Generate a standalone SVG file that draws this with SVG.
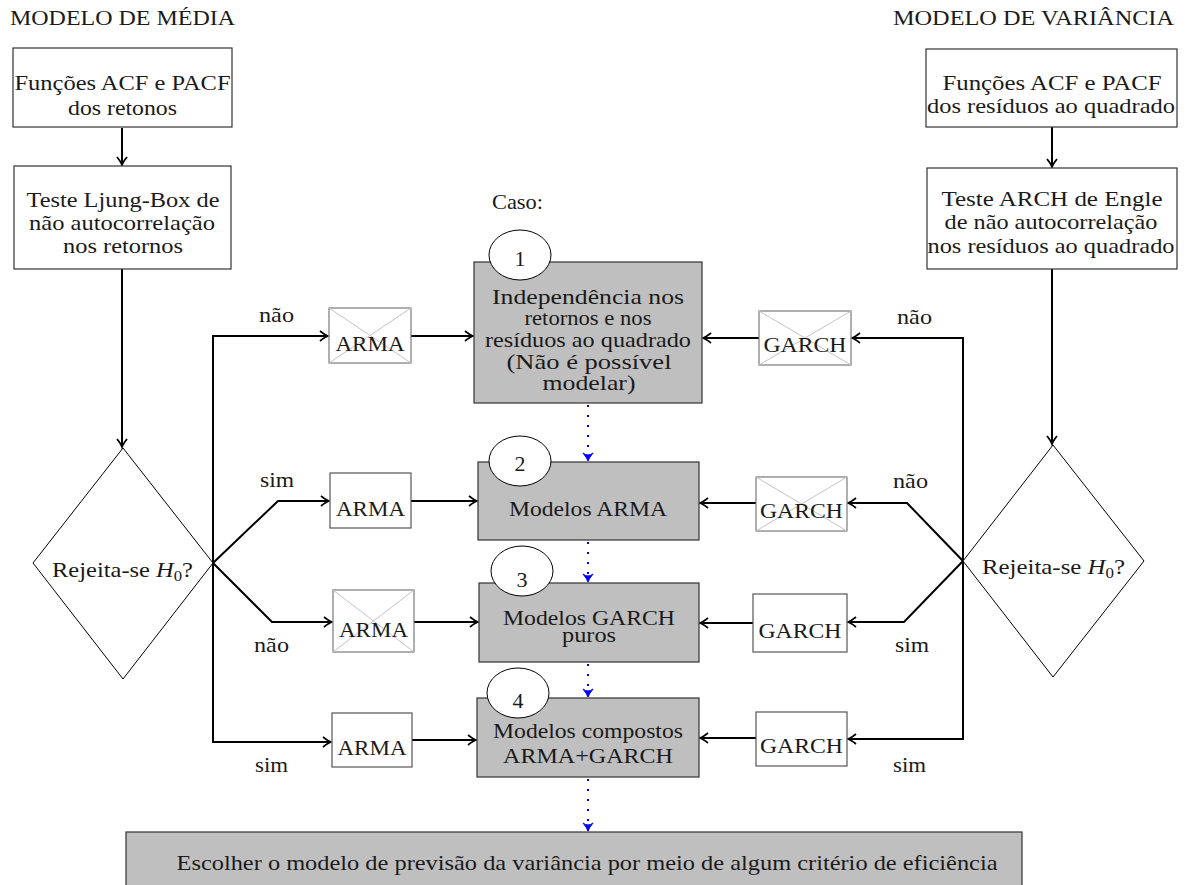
<svg xmlns="http://www.w3.org/2000/svg" width="1187" height="885" viewBox="0 0 1187 885">
<style>
text{font-family:"Liberation Serif","DejaVu Serif",serif;font-size:22px;fill:#1a1a1a}
.c{text-anchor:middle}
.box{fill:#fff;stroke:#333;stroke-width:1.2}
.sbox{fill:#fff;stroke:#555;stroke-width:1.2}
.xbox{fill:#fff;stroke:#7a7a7a;stroke-width:1.2}
.xl{stroke:#c4c4c4;stroke-width:1}
.gbox{fill:#bfbfbf;stroke:#333;stroke-width:1.2}
.dia{fill:#fff;stroke:#000;stroke-width:1}
.ell{fill:#fff;stroke:#000;stroke-width:1}
.cn{fill:none;stroke:#000;stroke-width:2;marker-end:url(#ah)}
.dot{fill:none;stroke:#00f;stroke-width:2;stroke-dasharray:2 8;marker-end:url(#bh)}
</style>
<defs>
<marker id="ah" markerUnits="userSpaceOnUse" markerWidth="14" markerHeight="14" viewBox="-10 -7 12 14" refX="0" refY="0" orient="auto">
<path d="M-8,-5 Q-3,-1 0,0 Q-3,1 -8,5" fill="none" stroke="#000" stroke-width="1.8"/>
</marker>
<marker id="bh" markerUnits="userSpaceOnUse" markerWidth="14" markerHeight="14" viewBox="-10 -7 12 14" refX="0" refY="0" orient="auto">
<path d="M-8,-5 Q-3,-1 0,0 Q-3,1 -8,5 Q-4,0 -8,-5 Z" fill="#00f" stroke="#00f" stroke-width="1"/>
</marker>
</defs>

<text x="10" y="25" textLength="225" lengthAdjust="spacingAndGlyphs">MODELO DE MÉDIA</text>
<text x="1174" y="25" style="text-anchor:end" textLength="281" lengthAdjust="spacingAndGlyphs">MODELO DE VARIÂNCIA</text>
<text x="492" y="209" textLength="51" lengthAdjust="spacingAndGlyphs">Caso:</text>

<g id="connectors">
<path class="cn" d="M122,128 L122,165"/>
<path class="cn" d="M122,269 L122,447"/>
<path class="cn" d="M213,563 L213,336 L328,336"/>
<path class="cn" d="M213,563 L213,742 L331,742"/>
<path class="cn" d="M213,563 L278,501 L329,501"/>
<path class="cn" d="M213,563 L272,622 L332,622"/>
<path class="cn" d="M411,336 L473,336"/>
<path class="cn" d="M411,501 L477,501"/>
<path class="cn" d="M414,622 L478,622"/>
<path class="cn" d="M412,740 L476,740"/>
<path class="cn" d="M1052,127 L1052,167"/>
<path class="cn" d="M1052,269 L1052,444"/>
<path class="cn" d="M963,561 L963,338 L852,338"/>
<path class="cn" d="M963,561 L963,739 L848,739"/>
<path class="cn" d="M963,561 L907,503 L848,503"/>
<path class="cn" d="M963,561 L904,622 L848,622"/>
<path class="cn" d="M759,338 L703,338"/>
<path class="cn" d="M756,503 L700,503"/>
<path class="cn" d="M753,623 L700,623"/>
<path class="cn" d="M756,738 L700,738"/>
<path class="dot" d="M588,405 L588,461"/>
<path class="dot" d="M588,542 L588,582"/>
<path class="dot" d="M588,664 L588,697"/>
<path class="dot" d="M588,779 L588,831"/>
</g>

<g id="labels">
<text x="259" y="322" textLength="35" lengthAdjust="spacingAndGlyphs">não</text>
<text x="260" y="487" textLength="34" lengthAdjust="spacingAndGlyphs">sim</text>
<text x="254" y="652" textLength="35" lengthAdjust="spacingAndGlyphs">não</text>
<text x="255" y="772" textLength="33" lengthAdjust="spacingAndGlyphs">sim</text>
<text x="897" y="324" textLength="35" lengthAdjust="spacingAndGlyphs">não</text>
<text x="893" y="488" textLength="35" lengthAdjust="spacingAndGlyphs">não</text>
<text x="895" y="652" textLength="34" lengthAdjust="spacingAndGlyphs">sim</text>
<text x="893" y="772" textLength="33" lengthAdjust="spacingAndGlyphs">sim</text>
</g>

<g id="l-acf">
<rect class="box" x="13" y="48" width="219" height="79"/>
<text class="c" x="122.5" y="90" textLength="216" lengthAdjust="spacingAndGlyphs">Funções ACF e PACF</text>
<text class="c" x="122.5" y="115" textLength="109" lengthAdjust="spacingAndGlyphs">dos retonos</text>
</g>
<g id="l-ljung">
<rect class="box" x="14" y="166" width="217" height="103"/>
<text class="c" x="123" y="207" textLength="193" lengthAdjust="spacingAndGlyphs">Teste Ljung-Box de</text>
<text class="c" x="122" y="230" textLength="186" lengthAdjust="spacingAndGlyphs">não autocorrelação</text>
<text class="c" x="123" y="253" textLength="120" lengthAdjust="spacingAndGlyphs">nos retornos</text>
</g>
<g id="l-dec">
<polygon class="dia" points="123,448 213,563 123,679 33,563"/>
<text x="52" y="577" textLength="141" lengthAdjust="spacingAndGlyphs">Rejeita-se <tspan font-style="italic">H</tspan><tspan font-size="15" dy="4">0</tspan><tspan dy="-4">?</tspan></text>
</g>

<g id="r-acf">
<rect class="box" x="926" y="49" width="251" height="78"/>
<text class="c" x="1052" y="90" textLength="219" lengthAdjust="spacingAndGlyphs">Funções ACF e PACF</text>
<text class="c" x="1051" y="113" textLength="248" lengthAdjust="spacingAndGlyphs">dos resíduos ao quadrado</text>
</g>
<g id="r-arch">
<rect class="box" x="927" y="168" width="250" height="101"/>
<text class="c" x="1052" y="206" textLength="221" lengthAdjust="spacingAndGlyphs">Teste ARCH de Engle</text>
<text class="c" x="1051" y="229" textLength="213" lengthAdjust="spacingAndGlyphs">de não autocorrelação</text>
<text class="c" x="1051" y="253" textLength="247" lengthAdjust="spacingAndGlyphs">nos resíduos ao quadrado</text>
</g>
<g id="r-dec">
<polygon class="dia" points="1053,445 1144,561 1053,677 963,561"/>
<text x="982" y="574" textLength="143" lengthAdjust="spacingAndGlyphs">Rejeita-se <tspan font-style="italic">H</tspan><tspan font-size="15" dy="4">0</tspan><tspan dy="-4">?</tspan></text>
</g>

<g id="arma1">
<rect class="xbox" x="329" y="308" width="82" height="55"/>
<path class="xl" d="M329,308 L411,363 M411,308 L329,363"/>
<text class="c" x="370" y="351" textLength="69" lengthAdjust="spacingAndGlyphs">ARMA</text>
</g>
<g id="arma2">
<rect class="sbox" x="330" y="473" width="81" height="55"/>
<text class="c" x="370.5" y="516" textLength="69" lengthAdjust="spacingAndGlyphs">ARMA</text>
</g>
<g id="arma3">
<rect class="xbox" x="333" y="590" width="81" height="62"/>
<path class="xl" d="M333,590 L414,652 M414,590 L333,652"/>
<text class="c" x="373.5" y="637" textLength="69" lengthAdjust="spacingAndGlyphs">ARMA</text>
</g>
<g id="arma4">
<rect class="sbox" x="332" y="713" width="80" height="54"/>
<text class="c" x="372" y="755" textLength="69" lengthAdjust="spacingAndGlyphs">ARMA</text>
</g>

<g id="garch1">
<rect class="xbox" x="759" y="311" width="92" height="54"/>
<path class="xl" d="M759,311 L851,365 M851,311 L759,365"/>
<text class="c" x="805" y="352" textLength="83" lengthAdjust="spacingAndGlyphs">GARCH</text>
</g>
<g id="garch2">
<rect class="xbox" x="756" y="477" width="91" height="54"/>
<path class="xl" d="M756,477 L847,531 M847,477 L756,531"/>
<text class="c" x="801.5" y="518" textLength="83" lengthAdjust="spacingAndGlyphs">GARCH</text>
</g>
<g id="garch3">
<rect class="sbox" x="753" y="594" width="94" height="58"/>
<text class="c" x="800" y="638" textLength="83" lengthAdjust="spacingAndGlyphs">GARCH</text>
</g>
<g id="garch4">
<rect class="sbox" x="756" y="712" width="91" height="54"/>
<text class="c" x="801.5" y="753" textLength="83" lengthAdjust="spacingAndGlyphs">GARCH</text>
</g>

<g id="caso1">
<rect class="gbox" x="474" y="262" width="228" height="141"/>
<ellipse class="ell" cx="520" cy="255" rx="31" ry="25"/>
<text class="c" x="520" y="266">1</text>
<text class="c" x="588" y="304" textLength="192" lengthAdjust="spacingAndGlyphs">Independência nos</text>
<text class="c" x="588" y="325" textLength="127" lengthAdjust="spacingAndGlyphs">retornos e nos</text>
<text class="c" x="588" y="347" textLength="206" lengthAdjust="spacingAndGlyphs">resíduos ao quadrado</text>
<text class="c" x="589" y="369" textLength="165" lengthAdjust="spacingAndGlyphs">(Não é possível</text>
<text class="c" x="589" y="390" textLength="93" lengthAdjust="spacingAndGlyphs">modelar)</text>
</g>
<g id="caso2">
<rect class="gbox" x="478" y="462" width="221" height="78"/>
<ellipse class="ell" cx="520" cy="461" rx="31" ry="25"/>
<text class="c" x="520" y="471">2</text>
<text class="c" x="588" y="516" textLength="158" lengthAdjust="spacingAndGlyphs">Modelos ARMA</text>
</g>
<g id="caso3">
<rect class="gbox" x="479" y="583" width="220" height="79"/>
<ellipse class="ell" cx="522" cy="571" rx="31" ry="25"/>
<text class="c" x="522" y="587">3</text>
<text class="c" x="589" y="625" textLength="172" lengthAdjust="spacingAndGlyphs">Modelos GARCH</text>
<text class="c" x="589" y="642" textLength="54" lengthAdjust="spacingAndGlyphs">puros</text>
</g>
<g id="caso4">
<rect class="gbox" x="477" y="698" width="222" height="79"/>
<ellipse class="ell" cx="518" cy="693" rx="31" ry="25"/>
<text class="c" x="518" y="708">4</text>
<text class="c" x="588" y="738" textLength="190" lengthAdjust="spacingAndGlyphs">Modelos compostos</text>
<text class="c" x="588" y="763" textLength="170" lengthAdjust="spacingAndGlyphs">ARMA+GARCH</text>
</g>

<g id="escolher">
<rect class="gbox" x="126" y="832" width="896" height="70"/>
<text class="c" x="587" y="870" textLength="821" lengthAdjust="spacingAndGlyphs">Escolher o modelo de previsão da variância por meio de algum critério de eficiência</text>
</g>
</svg>
